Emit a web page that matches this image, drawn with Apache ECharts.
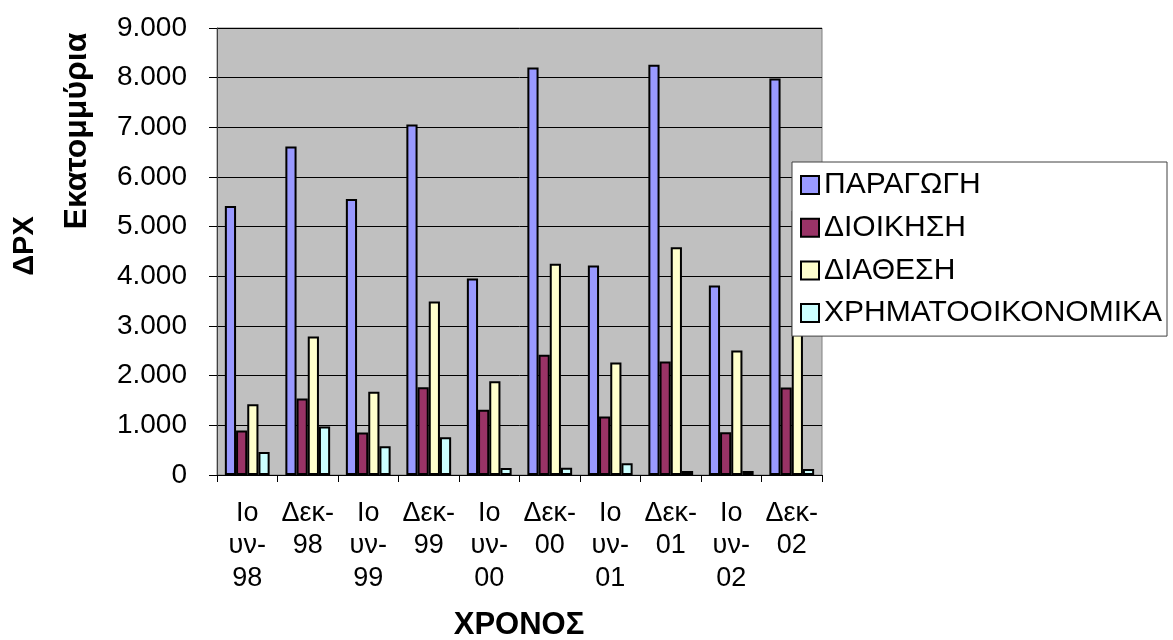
<!DOCTYPE html>
<html>
<head>
<meta charset="utf-8">
<script src="https://cdn.jsdelivr.net/npm/echarts@6/dist/echarts.min.js"></script>
<style>html,body{margin:0;padding:0;background:#fff;}#c{width:1173px;height:640px;}</style>
</head>
<body>
<div id="c"></div>
<script>
var categories = ['Ιο\nυν-\n98','Δεκ-\n98','Ιο\nυν-\n99','Δεκ-\n99','Ιο\nυν-\n00','Δεκ-\n00','Ιο\nυν-\n01','Δεκ-\n01','Ιο\nυν-\n02','Δεκ-\n02'];
var seriesNames = ['ΠΑΡΑΓΩΓΗ','ΔΙΟΙΚΗΣΗ','ΔΙΑΘΕΣΗ','ΧΡΗΜΑΤΟΟΙΚΟΝΟΜΙΚΑ'];
var paragogi = [5414, 6612, 5556, 7056, 3955, 8206, 4217, 8260, 3814, 7985];
var dioikisi = [894, 1540, 854, 1769, 1312, 2421, 1177, 2287, 861, 1762];
var diathesi = [1426, 2791, 1675, 3491, 1890, 4251, 2267, 4587, 2509, 5313];
var xrimatooikonomika = [464, 975, 578, 760, 141, 148, 235, 81, 81, 121];
var colors = ['#9999FF','#993366','#FFFFCC','#CCFFFF'];
var FONT = "'Liberation Sans', Arial, sans-serif";

var chart = echarts.init(document.getElementById('c'));
var dataSets = [paragogi, dioikisi, diathesi, xrimatooikonomika];
var series = dataSets.map(function (d, i) {
  return {
    name: seriesNames[i],
    type: 'bar',
    data: d,
    barGap: '0%',
    barCategoryGap: '26%',
    itemStyle: { color: colors[i], borderColor: '#000', borderWidth: 2 },
    emphasis: { disabled: true },
    animation: false
  };
});

chart.setOption({
  animation: false,
  textStyle: { fontFamily: FONT, color: '#000' },
  grid: { left: 217, right: 351, top: 28, bottom: 165, show: true, backgroundColor: '#C0C0C0', borderColor: '#808080', borderWidth: 1 },
  legend: {
    orient: 'vertical', left: 792, top: 162,
    padding: [8, 5, 8, 8],
    itemWidth: 18, itemHeight: 18, itemGap: 12.7,
    backgroundColor: '#fff', borderColor: '#404040', borderWidth: 1,
    textStyle: { fontSize: 30, lineHeight: 30, fontFamily: FONT, color: '#000', padding: [0,0,0,0] },
    icon: 'rect',
    data: seriesNames
  },
  xAxis: {
    type: 'category',
    data: categories,
    axisLine: { lineStyle: { color: '#000', width: 1 } },
    axisTick: { show: true, length: 7, lineStyle: { color: '#000' } },
    axisLabel: { fontSize: 27, lineHeight: 32.5, margin: 22, color: '#000', fontFamily: FONT, interval: 0 }
  },
  yAxis: {
    type: 'value', min: 0, max: 9000, interval: 1000,
    axisLine: { show: true, lineStyle: { color: '#404040', width: 1 } },
    axisTick: { show: true, length: 8, lineStyle: { color: '#000' } },
    splitLine: { lineStyle: { color: '#000', width: 1 } },
    axisLabel: {
      fontSize: 28, margin: 30, color: '#000', fontFamily: FONT,
      formatter: function (v) { return v === 0 ? '0' : String(v).replace(/\B(?=(\d{3})+(?!\d))/g, '.'); }
    }
  },
  graphic: [
    { type: 'text', x: 25, y: 246, rotation: Math.PI / 2, style: { text: 'ΔΡΧ', align: 'center', verticalAlign: 'middle', font: 'bold 29px ' + FONT, fill: '#000' } },
    { type: 'text', x: 77, y: 131, rotation: Math.PI / 2, style: { text: 'Εκατομμύρια', align: 'center', verticalAlign: 'middle', font: 'bold 32px ' + FONT, fill: '#000' } },
    { type: 'text', x: 519, y: 625, style: { text: 'ΧΡΟΝΟΣ', align: 'center', verticalAlign: 'middle', font: 'bold 31px ' + FONT, fill: '#000' } }
  ],
  series: series
});
</script>
</body>
</html>
